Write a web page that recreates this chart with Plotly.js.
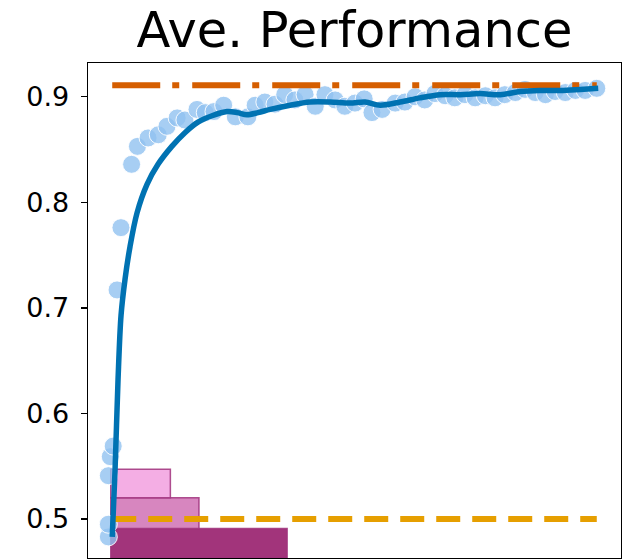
<!DOCTYPE html>
<html>
<head>
<meta charset="utf-8">
<script src="https://cdn.plot.ly/plotly-3.0.1.min.js"></script>
<style>html,body{margin:0;padding:0;background:#fff;}#chart{width:630px;height:559px;}</style>
</head>
<body>
<div id="chart"></div>
<script>
// ---- data ----
const chartTitle = "Ave. Performance";
const yTickVals = [0.5, 0.6, 0.7, 0.8, 0.9];
const yTickText = ["0.5", "0.6", "0.7", "0.8", "0.9"];

// individual evaluations (scatter)
const scatterX = [-0.8, -0.8, -0.8, -0.4, 0.2, 1.0, 1.8, 4.0, 5.2, 7.4, 9.5, 11.3, 13.4, 15.0, 17.5, 19.2, 21.0, 23.0,
  25.4, 28.0, 29.5, 31.5, 33.6, 35.6, 37.7, 39.8, 41.9, 43.9, 46.0, 48.0, 50.1, 52.0, 53.6, 55.7, 58.4, 60.4,
  62.5, 64.5, 66.6, 68.7, 70.7, 72.8, 74.9, 77.0, 79.0, 81.0, 83.2, 85.2, 87.3, 89.4, 91.4, 93.5, 95.6, 97.6, 100.0];
const scatterY = [0.483, 0.495, 0.541, 0.559, 0.569, 0.717, 0.776, 0.836, 0.853, 0.861, 0.864, 0.872, 0.880, 0.878, 0.888, 0.885, 0.886, 0.892,
  0.881, 0.881, 0.892, 0.895, 0.893, 0.902, 0.897, 0.902, 0.891, 0.902, 0.897, 0.891, 0.894, 0.898, 0.885, 0.888, 0.894, 0.895,
  0.900, 0.897, 0.903, 0.901, 0.899, 0.902, 0.899, 0.901, 0.899, 0.902, 0.904, 0.907, 0.904, 0.902, 0.905, 0.904, 0.906, 0.906, 0.908];

// smoothed average (line)
const lineX = [0.0, 0.58, 1.2, 1.82, 2.64, 3.67, 5.12, 7.18, 9.45, 12.3, 15.0, 17.7, 20.6, 23.7, 25.8, 27.8, 30.1, 32.6, 36.7,
  40.8, 45.0, 49.1, 52.2, 55.3, 59.4, 63.5, 67.7, 71.8, 75.9, 80.1, 84.2, 88.3, 92.5, 96.6, 100.3];
const lineY = [0.483, 0.546, 0.632, 0.693, 0.727, 0.758, 0.790, 0.817, 0.836, 0.853, 0.866, 0.876, 0.882, 0.886, 0.885, 0.883, 0.885, 0.888, 0.892,
  0.895, 0.895, 0.894, 0.895, 0.892, 0.895, 0.899, 0.902, 0.902, 0.903, 0.902, 0.905, 0.906, 0.906, 0.907, 0.908];

// reference levels
const refHigh = 0.911;
const refLow = 0.5;
const refStart = 0;
const refEnd = 100;

// histogram of start values (bin edges on y, counts on x)
const histEdges = [0.463, 0.491, 0.520, 0.547];
const histCounts = [36.4, 18.2, 12.3];
const histBase = -0.3;
const histColors = ["#a2347b", "#d786bf", "#f4aee4"];

// ---- build ----
const histCenters = histCounts.map((c, i) => (histEdges[i] + histEdges[i + 1]) / 2);
const histWidths = histCounts.map((c, i) => histEdges[i + 1] - histEdges[i]);

const traces = [
  {
    type: "scatter", mode: "markers", x: scatterX, y: scatterY,
    marker: { size: 18, color: "rgba(145,194,240,0.8)", line: { color: "rgba(255,255,255,0.9)", width: 1 } },
    hoverinfo: "skip", showlegend: false
  },
  {
    type: "bar", orientation: "h", y: histCenters, x: histCounts, base: histBase, width: histWidths,
    marker: { color: histColors, line: { color: "rgba(160,50,125,0.85)", width: 1.5 } },
    hoverinfo: "skip", showlegend: false
  },
  {
    type: "scatter", mode: "lines", x: [refStart, refEnd], y: [refHigh, refHigh],
    line: { color: "#d55e00", width: 6, dash: "48px,12px,7px,13px" }, hoverinfo: "skip", showlegend: false
  },
  {
    type: "scatter", mode: "lines", x: [refStart, refEnd], y: [refLow, refLow],
    line: { color: "#e69f00", width: 6, dash: "24px,12px" }, hoverinfo: "skip", showlegend: false
  },
  {
    type: "scatter", mode: "lines", x: lineX, y: lineY,
    line: { color: "#0072b2", width: 5.5, shape: "spline", smoothing: 0.9 }, hoverinfo: "skip", showlegend: false
  }
];

const layout = {
  width: 630, height: 559, autosize: false,
  margin: { l: 88, r: 9, t: 63, b: 1, pad: 0 },
  paper_bgcolor: "#fff", plot_bgcolor: "#fff",
  font: { family: "DejaVu Sans", color: "#000" },
  title: {
    text: chartTitle, font: { family: "DejaVu Sans", size: 49.5, color: "#000" },
    x: 0.5, xref: "paper", xanchor: "center", y: 1 - 30 / 559, yref: "container", yanchor: "middle"
  },
  xaxis: {
    range: [-5, 105], showgrid: false, zeroline: false, showticklabels: false, ticks: "",
    showline: true, mirror: true, linecolor: "#000", linewidth: 1.3
  },
  yaxis: {
    range: [0.463, 0.932], showgrid: false, zeroline: false,
    tickvals: yTickVals, ticktext: yTickText, ticks: "outside", ticklen: 6, tickwidth: 1.3, tickcolor: "#000",
    tickfont: { family: "DejaVu Sans", size: 27, color: "#000" }, ticklabelstandoff: 6,
    showline: true, mirror: true, linecolor: "#000", linewidth: 1.3
  },
  bargap: 0
};

Plotly.newPlot("chart", traces, layout, { staticPlot: true, displayModeBar: false });
</script>
</body>
</html>
